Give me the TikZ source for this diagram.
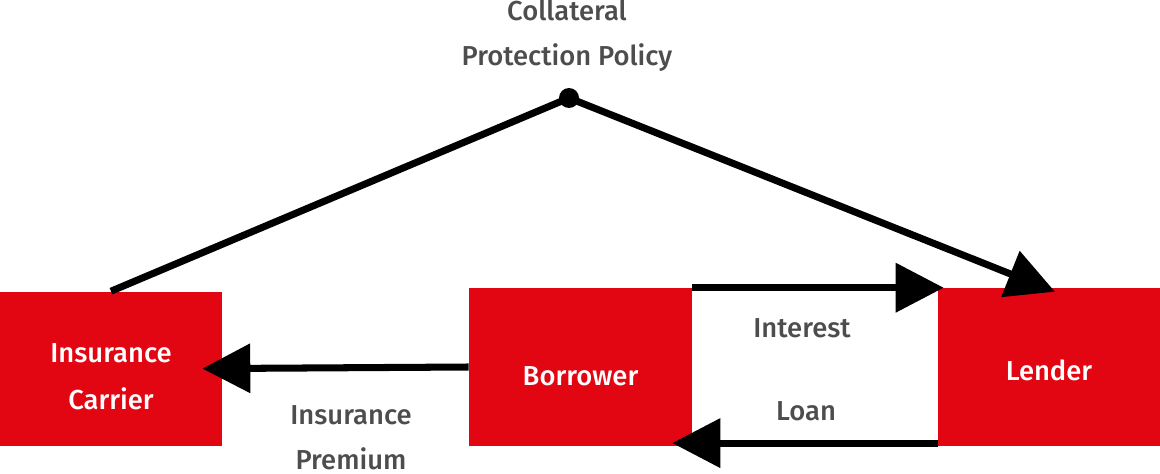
\documentclass[tikz,border=0pt]{standalone}
\usepackage{fontspec}
\setmainfont{Fira Sans}[UprightFont={* Medium}]
\usetikzlibrary{arrows.meta,positioning}
\definecolor{boxred}{RGB}{226,6,19}
\definecolor{labelgrey}{RGB}{77,77,77}
\tikzset{%
	party/.style  = {fill=boxred, text=white, rectangle, inner sep=0pt, minimum width=5.55cm, minimum height=3.95cm, align=center, text height=0.95cm, font=\fontsize{19.5}{33}\selectfont},
	flowlabel/.style = {text=labelgrey, align=center, inner sep=0pt, font=\fontsize{19.5}{32}\selectfont},
	joint/.style  = {circle, fill=black, inner sep=0pt, minimum size=0.5cm},
	flow/.style   = {line width=5pt, -{Triangle[length=1.2cm, width=1.2cm]}},
}
\begin{document}
\begin{tikzpicture}
	\useasboundingbox (0,0) rectangle (29,11.825);
	\node [party, minimum height=3.85cm, text height=2.05cm] (carrier) at (2.775,2.6125) {Insurance\\Carrier};
	\node [party, minimum width=5.575cm] (borrower) at (14.5125,2.65) {Borrower};
	\node [party, text height=0.7cm] (lender) at (26.225,2.65) {Lender};
	\node [joint] (cpp) at (14.225,9.375) {};
	\node [flowlabel] (cpptext) at (14.175,10.94) {Collateral\\Protection Policy};
	\node [flowlabel] (interest) at (20.05,3.625) {Interest};
	\node [flowlabel] (loan) at (20.15,1.55) {Loan};
	\node [flowlabel] (premium) at (8.775,0.8875) {Insurance\\Premium};

	\draw[line width=5pt] (carrier.north) -- (cpp.center);
	\draw[flow] (cpp.center) -- ([xshift=0.15cm,yshift=-0.1cm]lender.north);
	\draw[flow, shorten >=-0.15cm] (borrower.north east) -- (lender.north west);
	\draw[flow, shorten >=-0.5cm] ([yshift=0.08cm]lender.south west) -- ([yshift=0.08cm]borrower.south east);
	\draw[flow, shorten >=-0.5cm] (borrower.west) -- (carrier.east);
\end{tikzpicture}
\end{document}
